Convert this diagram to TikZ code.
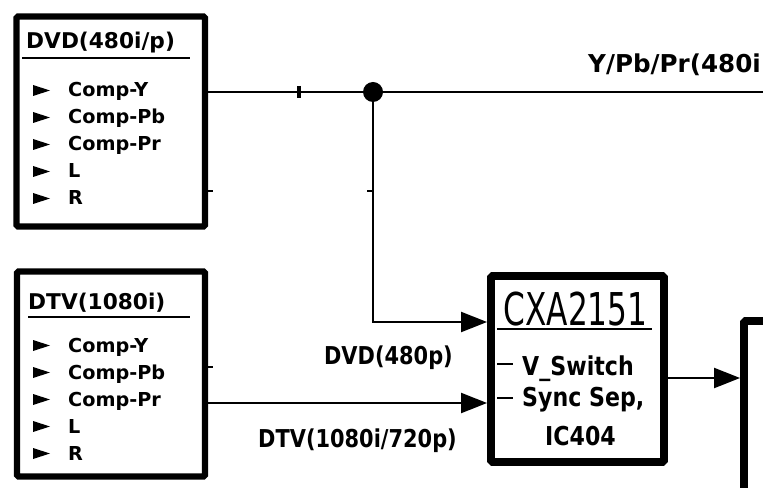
\documentclass[tikz,border=0pt]{standalone}
\usepackage{fontspec}
\setmainfont{DejaVu Sans}
\newfontfamily\narrowfont[FakeStretch=0.85]{DejaVu Sans}
\newfontfamily\chipfont[FakeStretch=0.69]{DejaVu Sans}
\usetikzlibrary{arrows.meta,positioning,calc}

\begin{document}
\begin{tikzpicture}[x=0.03cm, y=-0.03cm, font=\bfseries,
  >={Triangle[length=7.8mm, width=6mm]},
  blk/.style={draw, line width=#1, rounded corners=1.5pt, inner sep=0pt},
  blk/.default=5.5pt,
  wire/.style={line width=2.1pt},
  sig/.style={inner sep=0pt, anchor=base west, font=\bfseries\fontsize{16.4}{18}\selectfont},
  ttl/.style={inner sep=0pt, anchor=base west, font=\bfseries\fontsize{18.5}{20}\selectfont},
  lbl/.style={inner sep=0pt, font=\narrowfont\bfseries\fontsize{21}{24}\selectfont},
  fn/.style={inner sep=0pt, anchor=base west, font=\narrowfont\bfseries\fontsize{22.2}{26}\selectfont},
  tick/.style={line width=1.3pt}]
\useasboundingbox (0,0) rectangle (763,488);

\node[blk, minimum width=5.655cm, minimum height=6.3cm] (dvd) at (110.75,121.5) {};
\node[blk, minimum width=5.64cm, minimum height=6.15cm] (dtv) at (111,374) {};
\node[blk=6.8pt, minimum width=5.19cm, minimum height=5.58cm] (cxa) at (577.5,369) {};
\node[blk=6.8pt, minimum width=6cm, minimum height=6cm] (nxt) at (844,421) {};

\node[ttl] (dvdttl) at (26,49) {DVD(480i/p)};
\draw[line width=2.2pt] (22,58) -- (190,58);
\node[ttl] (dtvttl) at (28,309) {DTV(1080i)};
\draw[line width=2.2pt] (28,317) -- (190,317);
\foreach \s [count=\n from 0] in {Comp-Y,Comp-Pb,Comp-Pr,L,R} {
  \fill (33,85+27*\n) -- ++(17,5.5) -- ++(-17,5.5) -- cycle;
  \node[sig] (dvd\n) at (68,97+27*\n) {\s};
  \fill (33,340+27*\n) -- ++(17,5.5) -- ++(-17,5.5) -- cycle;
  \node[sig] (dtv\n) at (68,352+27*\n) {\s};
}

\node[inner sep=0pt, anchor=base, font=\chipfont\fontsize{38.6}{42}\selectfont] (cxattl) at (575.5,325) {CXA2151};
\draw[line width=2.5pt] (497,329) -- (652,329);
\node[fn] (vsw) at (522,375) {V\_Switch};
\node[fn] (sync) at (522,406) {Sync Sep,};
\node[fn] (ic) at (545,445) {IC404};
\draw[line width=1.5pt] (497,364) -- (513,364) (497,398) -- (513,398);

\coordinate (yout) at (763,92);
\coordinate (dvdin) at (487,322);
\coordinate (dtvin) at (487,403);
\coordinate (nxtin) at (740,378);
\node[circle, fill, inner sep=0pt, minimum size=0.6cm] (split) at (373,92) {};
\draw[wire] (dvd.east |- yout) -- (yout);
\draw[wire, ->] (split.center) |- (dvdin);
\draw[wire, ->] (dtv.east |- dtvin) -- (dtvin);
\draw[wire, ->] (cxa.east |- nxtin) -- (nxtin);

\node[inner sep=0pt, anchor=base west, font=\bfseries\fontsize{21}{24}\selectfont] (ylbl) at (588,73) {Y/Pb/Pr(480i};
\node[lbl, anchor=base east] (dvdlbl) at (453,364) {DVD(480p)};
\node[lbl, anchor=base east] (dtvlbl) at (457,447) {DTV(1080i/720p)};

\draw[line width=3pt] (299,86) -- (299,98);
\draw[tick] (367,191) -- (373,191) (208,191) -- (213,191) (208,367) -- (213,367);
\end{tikzpicture}
\end{document}
